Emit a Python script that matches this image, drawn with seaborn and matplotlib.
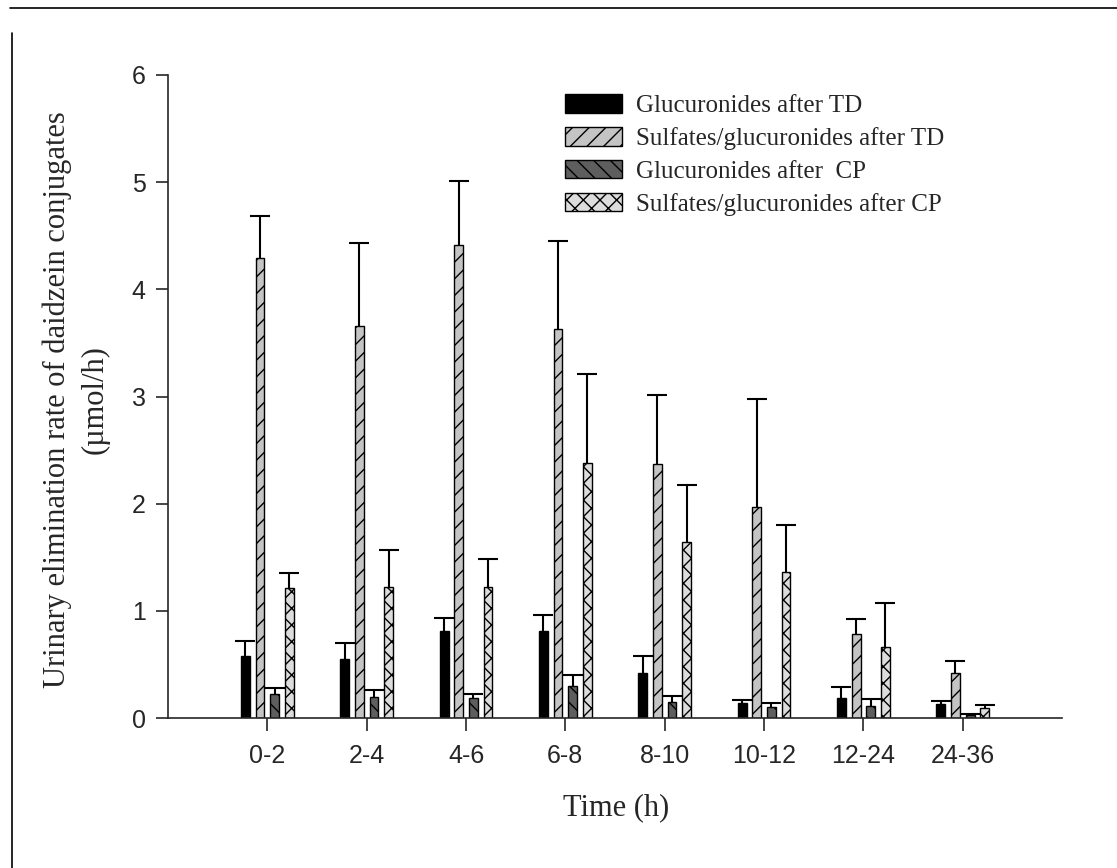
# urinary elimination rate of daidzein conjugates, grouped bars with upper error bars

import pandas as pd
import numpy as np
import matplotlib
matplotlib.use('Agg')
import matplotlib.pyplot as plt
from matplotlib.lines import Line2D
import seaborn as sns

times = ['0-2', '2-4', '4-6', '6-8', '8-10', '10-12', '12-24', '24-36']
series = ['Glucuronides after TD', 'Sulfates/glucuronides after TD',
          'Glucuronides after  CP', 'Sulfates/glucuronides after CP']

gluc_td = [0.58, 0.55, 0.81, 0.81, 0.42, 0.14, 0.19, 0.13]
sulf_td = [4.29, 3.66, 4.41, 3.63, 2.37, 1.97, 0.78, 0.42]
gluc_cp = [0.22, 0.20, 0.19, 0.30, 0.15, 0.10, 0.11, 0.03]
sulf_cp = [1.21, 1.22, 1.22, 2.38, 1.64, 1.36, 0.66, 0.09]

# upper error (sd) for each bar
gluc_td_err = [0.14, 0.15, 0.12, 0.15, 0.16, 0.03, 0.10, 0.03]
sulf_td_err = [0.39, 0.77, 0.60, 0.82, 0.64, 1.01, 0.14, 0.11]
gluc_cp_err = [0.06, 0.06, 0.03, 0.10, 0.06, 0.04, 0.07, 0.01]
sulf_cp_err = [0.14, 0.35, 0.26, 0.83, 0.53, 0.44, 0.41, 0.03]

values = [gluc_td, sulf_td, gluc_cp, sulf_cp]
errors = [gluc_td_err, sulf_td_err, gluc_cp_err, sulf_cp_err]

rows = []
for s, vals in zip(series, values):
    for t, v in zip(times, vals):
        rows.append({'time': t, 'series': s, 'value': v})
df = pd.DataFrame(rows)

colors = ['#000000', '#c4c4c4', '#5e5e5e', '#dcdcdc']
hatches = ['', '//', '\\\\', 'xx']

sns.set_style('ticks')
plt.rcParams['font.family'] = ['Liberation Sans', 'DejaVu Sans']
plt.rcParams['hatch.linewidth'] = 1.0

fig = plt.figure(figsize=(11.17, 8.68), dpi=100)
ax = fig.add_axes([0.1504, 0.1728, 0.8004, 0.7408])

sns.barplot(data=df, x='time', y='value', hue='series', order=times, hue_order=series,
            palette=colors, width=0.59, gap=0.39, saturation=1, errorbar=None,
            edgecolor='black', linewidth=1, ax=ax, legend=False)

bar_conts = list(ax.containers)
for cont, h, err in zip(bar_conts, hatches, errors):
    xs = []
    ys = []
    for p in cont.patches:
        p.set_hatch(h)
        xs.append(p.get_x() + p.get_width() / 2)
        ys.append(p.get_height())
    eb = ax.errorbar(xs, ys, yerr=[np.zeros(len(err)), err], fmt='none',
                     ecolor='black', elinewidth=1.5, capsize=7, capthick=1.5, zorder=1)
    # only the upper cap is shown
    eb[1][0].set_visible(False)

handles = [cont.patches[0] for cont in bar_conts]
ax.legend(handles, series, loc='upper left', bbox_to_anchor=(0.4185, 1.005),
          frameon=False, handlelength=2.3, handleheight=0.75, labelspacing=0.4,
          handletextpad=0.55, prop={'family': 'Liberation Serif', 'size': 18})

ax.set_xlim(-1, 8)
ax.set_ylim(0, 6)
ax.set_yticks([0, 1, 2, 3, 4, 5, 6])
ax.tick_params(axis='both', direction='out', length=9, width=1.2, labelsize=18, pad=7)
ax.tick_params(axis='x', pad=10)

ax.set_xlabel('Time (h)', family='Liberation Serif', fontsize=22)
ax.set_ylabel('Urinary elimination rate of daidzein conjugates\n(\u00b5mol/h)',
              family='Liberation Serif', fontsize=22, linespacing=1.4)
ax.xaxis.set_label_coords(0.501, -0.14)
ax.xaxis.label.set_va('center')
ax.yaxis.set_label_coords(-0.103, 0.495)
ax.yaxis.label.set_va('center')

sns.despine(ax=ax, top=True, right=True)
for sp in ['left', 'bottom']:
    ax.spines[sp].set_linewidth(1.2)

# page border lines
fig.add_artist(Line2D([0.009, 1.0], [0.991, 0.991], color='black', linewidth=1.2))
fig.add_artist(Line2D([0.011, 0.011], [0.0, 0.962], color='black', linewidth=1.2))

plt.savefig('out.png', dpi=100)
